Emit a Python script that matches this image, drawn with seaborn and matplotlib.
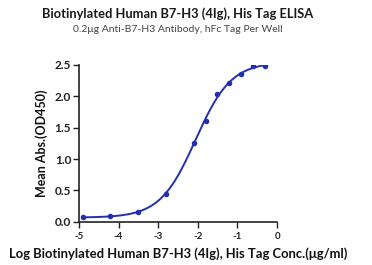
import numpy as np
import pandas as pd
import matplotlib
matplotlib.use("Agg")
import matplotlib.pyplot as plt
import seaborn as sns

# Data
log_conc = [-4.903, -4.204, -3.505, -2.806, -2.107, -1.806, -1.505, -1.204, -0.903, -0.602, -0.301]
od450 = [0.07, 0.09, 0.16, 0.45, 1.26, 1.60, 2.03, 2.21, 2.35, 2.48, 2.49]
x_ticks = [-5, -4, -3, -2, -1, 0]
y_ticks = [0.0, 0.5, 1.0, 1.5, 2.0, 2.5]

title = "Biotinylated Human B7-H3 (4Ig), His Tag ELISA"
subtitle = "0.2\u03bcg Anti-B7-H3 Antibody, hFc Tag Per Well"
xlabel = "Log Biotinylated Human B7-H3 (4Ig), His Tag Conc.(\u03bcg/ml)"
ylabel = "Mean Abs.(OD450)"

color = "#2230b0"

df = pd.DataFrame({"x": log_conc, "y": od450})

# 4PL fit with simple Levenberg-Marquardt
def f4(p, x):
    b, t, c, h = p
    return b + (t - b) / (1 + 10 ** ((c - x) * h))

xa = np.array(log_conc); ya = np.array(od450)
p = np.array([0.06, 2.6, -2.05, 1.0])
lam = 1e-3
for _ in range(200):
    r = ya - f4(p, xa)
    J = np.zeros((len(xa), 4))
    for i in range(4):
        dp = np.zeros(4); dp[i] = 1e-6
        J[:, i] = (f4(p + dp, xa) - f4(p - dp, xa)) / 2e-6
    A = J.T @ J
    step = np.linalg.solve(A + lam * np.diag(np.diag(A)), J.T @ r)
    pn = p + step
    if np.sum((ya - f4(pn, xa)) ** 2) < np.sum(r ** 2):
        p = pn; lam *= 0.5
    else:
        lam *= 4
xf = np.linspace(min(log_conc), max(log_conc), 300)
fit = pd.DataFrame({"x": xf, "y": f4(p, xf)})

sns.set_style("ticks")
plt.rcParams["font.family"] = ["Lato", "DejaVu Sans"]

fig = plt.figure(figsize=(3.72, 2.65), dpi=100)
ax = fig.add_axes([0.212, 0.163, 0.533, 0.592])
sns.lineplot(data=fit, x="x", y="y", ax=ax, color=color, lw=1.4)
sns.scatterplot(data=df, x="x", y="y", ax=ax, color=color, s=16, edgecolor=color, linewidth=0, zorder=3)

ax.set_xlim(-5, 0)
ax.set_ylim(0, 2.5)
ax.set_xticks(x_ticks)
ax.set_yticks(y_ticks)
ax.set_xticklabels([str(v) for v in x_ticks], fontsize=7, fontweight="bold")
ax.set_yticklabels([f"{v:.1f}" for v in y_ticks], fontsize=8.5, fontweight="bold")
ax.tick_params(axis="both", length=4, width=1.0, pad=1.5, colors="#222222")
ax.tick_params(axis="x", pad=3)
for s in ["left", "bottom"]:
    ax.spines[s].set_linewidth(1.2)
    ax.spines[s].set_color("#222222")
sns.despine(ax=ax)
ax.set_xlabel(xlabel, fontsize=9.4, fontweight="bold", labelpad=5, color="#111111")
ax.set_ylabel(ylabel, fontsize=9, fontweight="bold", labelpad=5, color="#111111")

fig.text(0.478, 0.950, title, ha="center", va="center", fontsize=9.3, fontweight="bold", color="#1a1a1a")
fig.text(0.478, 0.890, subtitle, ha="center", va="center", fontsize=7.5, color="#444444")

fig.savefig("out.png", dpi=100)
